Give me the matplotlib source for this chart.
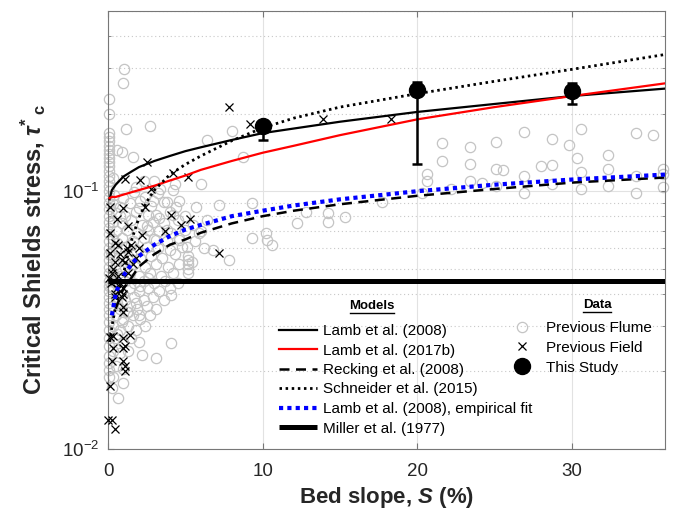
import matplotlib
matplotlib.use('Agg')
import matplotlib.pyplot as plt
from matplotlib.lines import Line2D
import numpy as np

plt.rcParams['font.family'] = ['Liberation Sans', 'DejaVu Sans']
plt.rcParams['mathtext.fontset'] = 'custom'
plt.rcParams['mathtext.rm'] = 'Liberation Sans'
plt.rcParams['mathtext.it'] = 'Liberation Sans:italic'
plt.rcParams['mathtext.bf'] = 'Liberation Sans:bold'
plt.rcParams['mathtext.bfit'] = 'Liberation Sans:italic:bold'

# ---------------- model curves ----------------
model_slope = [0.1, 0.25, 0.5, 1, 1.5, 2, 3, 4, 5, 6, 8, 10, 12, 15, 20, 25, 30, 36]
lamb2008 = [0.093, 0.101, 0.106, 0.114, 0.119, 0.124, 0.131, 0.137, 0.143, 0.148,
            0.158, 0.168, 0.175, 0.186, 0.203, 0.218, 0.234, 0.250]
lamb2017b = [0.094, 0.095, 0.095, 0.097, 0.099, 0.101, 0.105, 0.110, 0.115, 0.121,
             0.131, 0.141, 0.150, 0.165, 0.190, 0.212, 0.234, 0.262]
schneider_slope = [0.1, 0.3, 0.5, 0.75, 1, 1.5, 2, 2.5, 3, 4, 5, 6, 8, 10, 12, 15, 20, 25, 30, 36]
schneider2015 = [0.026, 0.031, 0.036, 0.042, 0.048, 0.064, 0.079, 0.091, 0.101, 0.116,
                 0.127, 0.137, 0.157, 0.176, 0.192, 0.212, 0.239, 0.267, 0.297, 0.339]
recking_slope = [0.5, 1, 1.5, 2, 3, 4, 5, 6, 8, 10, 12, 15, 20, 25, 30, 36]
recking2008 = [0.035, 0.042, 0.046, 0.051, 0.057, 0.062, 0.065, 0.069, 0.075, 0.080,
               0.084, 0.089, 0.096, 0.102, 0.108, 0.113]
fit_slope = [0.25, 0.5, 0.75, 1, 1.5, 2, 3, 4, 5, 6, 8, 10, 12, 15, 20, 25, 30, 36]
lamb_fit = [0.033, 0.040, 0.044, 0.047, 0.052, 0.056, 0.062, 0.067, 0.071, 0.074,
            0.080, 0.084, 0.088, 0.093, 0.100, 0.106, 0.111, 0.116]
miller_slope = [0, 36]
miller1977 = [0.045, 0.045]

# ---------------- this study ----------------
study_slope = [10, 20, 30]
study_tau = [0.179, 0.246, 0.245]
study_low = [0.158, 0.128, 0.217]
study_high = [0.188, 0.265, 0.263]

# ---------------- previous flume data ----------------
flume_col_tau = [0.227, 0.200, 0.168, 0.162, 0.156, 0.150, 0.145, 0.140, 0.135, 0.130,
                 0.125, 0.120, 0.115, 0.110, 0.105, 0.100, 0.095, 0.090, 0.085, 0.080,
                 0.076, 0.072, 0.068, 0.064, 0.060, 0.057, 0.054, 0.051, 0.048, 0.045,
                 0.043, 0.041, 0.039, 0.037, 0.035, 0.033, 0.031, 0.029, 0.027, 0.025,
                 0.023, 0.0215, 0.0203, 0.019]
flume_col_slope = 0.05

flume_dense_slope = [
    0.4, 1.0, 1.7, 2.4, 3.2,
    0.3, 0.8, 1.4, 2.0, 2.8, 3.6, 4.4,
    0.5, 1.1, 1.8, 2.6, 3.3, 4.0, 5.0,
    0.3, 0.9, 1.5, 2.2, 2.9, 3.6, 4.5, 5.5,
    0.5, 1.2, 1.9, 2.6, 3.3, 4.1, 5.0, 6.0,
    0.3, 0.9, 1.6, 2.3, 3.0, 3.8, 4.6, 5.6,
    0.5, 1.1, 1.8, 2.5, 3.2, 4.0, 4.8, 6.2,
    0.3, 0.9, 1.5, 2.1, 2.8, 3.5, 4.3, 5.2,
    0.5, 1.1, 1.7, 2.4, 3.1, 3.9, 4.6,
    0.3, 0.8, 1.4, 2.0, 2.7, 3.4, 4.2,
    0.5, 1.1, 1.7, 2.3, 3.0, 3.7, 4.5,
    0.3, 0.8, 1.4, 2.0, 2.6, 3.3, 4.0,
    0.5, 1.1, 1.7, 2.3, 2.9, 3.6, 4.1,
    0.3, 0.8, 1.4, 1.9, 2.5, 3.1,
    0.5, 1.0, 1.6, 2.1, 2.7,
    0.3, 0.8, 1.3, 1.8, 2.4,
    0.5, 1.0, 1.5, 2.0,
    0.3, 0.8, 1.3, 2.2,
    0.5, 1.0, 3.1, 4.1,
    0.3, 1.0, 0.66, 0.24,
    0.2, 0.6, 0.7, 1.3, 0.2, 0.6, 1.2, 0.9,
    0.7, 1.4, 2.1, 1.0, 1.8, 2.6, 0.6, 1.3, 2.0, 1.5,
]
flume_dense_tau = [
    0.097, 0.094, 0.099, 0.095, 0.098,
    0.089, 0.087, 0.090, 0.086, 0.088, 0.091, 0.087,
    0.082, 0.080, 0.083, 0.081, 0.079, 0.083, 0.080,
    0.076, 0.075, 0.077, 0.074, 0.076, 0.075, 0.077, 0.074,
    0.070, 0.071, 0.069, 0.071, 0.070, 0.069, 0.071, 0.070,
    0.065, 0.066, 0.064, 0.066, 0.065, 0.064, 0.066, 0.064,
    0.060, 0.061, 0.059, 0.061, 0.060, 0.059, 0.061, 0.060,
    0.056, 0.055, 0.057, 0.055, 0.056, 0.055, 0.057, 0.056,
    0.052, 0.051, 0.052, 0.051, 0.052, 0.051, 0.052,
    0.048, 0.047, 0.048, 0.047, 0.048, 0.047, 0.048,
    0.044, 0.045, 0.044, 0.045, 0.044, 0.045, 0.044,
    0.042, 0.041, 0.042, 0.041, 0.042, 0.041, 0.042,
    0.039, 0.038, 0.039, 0.038, 0.039, 0.038, 0.0395,
    0.036, 0.035, 0.036, 0.035, 0.036, 0.035,
    0.033, 0.032, 0.033, 0.032, 0.033,
    0.030, 0.029, 0.030, 0.029, 0.030,
    0.027, 0.026, 0.027, 0.026,
    0.024, 0.0235, 0.024, 0.0232,
    0.021, 0.0205, 0.0225, 0.0257,
    0.019, 0.018, 0.0157, 0.0172,
    0.058, 0.063, 0.050, 0.054, 0.043, 0.037, 0.034, 0.031,
    0.046, 0.050, 0.043, 0.040, 0.037, 0.046, 0.028, 0.034, 0.033, 0.062,
]

flume_upper_slope = [1.05, 0.95, 1.16, 2.7, 0.9, 1.6, 0.6, 0.3, 2.3, 3.0, 4.2, 2.1, 2.9,
                     3.8, 4.6, 5.7, 4.2, 3.1, 6.4, 3.8, 2.5, 3.1, 4.6, 5.9, 5.1, 6.8,
                     6.4, 8.0, 8.7, 7.2, 9.3, 3.35, 4.3, 6.0, 0.8, 1.8, 5.2, 5.2, 5.2,
                     5.2, 5.4, 7.8, 9.3, 10.2, 10.3, 10.6, 12.2, 12.8, 14.2, 14.2]
flume_upper_tau = [0.299, 0.263, 0.174, 0.179, 0.142, 0.136, 0.145, 0.113, 0.110, 0.110,
                   0.101, 0.092, 0.092, 0.091, 0.092, 0.087, 0.081, 0.081, 0.077, 0.071,
                   0.073, 0.0646, 0.0646, 0.0686, 0.0608, 0.059, 0.158, 0.171, 0.136,
                   0.0883, 0.0896, 0.102, 0.107, 0.107, 0.080, 0.104, 0.048, 0.050,
                   0.052, 0.054, 0.053, 0.054, 0.0656, 0.0688, 0.0646, 0.062, 0.075,
                   0.083, 0.082, 0.076]

flume_steep_slope = [15.3, 17.7, 20.3, 20.6, 20.6, 21.6, 21.6, 22.2, 23.4, 23.4, 23.4,
                     24.2, 25.1, 25.1, 25.5, 25.1, 26.9, 26.9, 26.9, 28.0, 28.7, 28.7,
                     28.7, 29.8, 30.3, 30.6, 30.6, 30.6, 32.3, 32.3, 32.3, 34.1, 35.2,
                     34.1, 34.1, 35.9, 35.9, 35.9]
flume_steep_tau = [0.0795, 0.0904, 0.098, 0.117, 0.110, 0.154, 0.131, 0.102, 0.149, 0.128,
                   0.110, 0.108, 0.155, 0.122, 0.121, 0.105, 0.170, 0.115, 0.0985, 0.125,
                   0.126, 0.160, 0.107, 0.151, 0.134, 0.174, 0.119, 0.102, 0.138, 0.122,
                   0.105, 0.168, 0.165, 0.115, 0.0985, 0.122, 0.117, 0.104]

# ---------------- previous field data ----------------
field_slope = [7.8, 9.2, 13.9, 18.3, 2.5, 1.1, 2.1, 4.2, 5.2, 2.8, 0.13, 1.0, 0.56, 2.4,
               4.1, 5.3, 4.75, 1.3, 0.13, 2.2, 3.7, 7.2, 0.66, 0.13, 1.3, 0.9, 0.45,
               1.1, 0.25, 0.66, 1.3, 0.05, 0.4, 0.8, 1.0, 0.9, 1.0, 1.0, 0.45, 0.13,
               0.35, 1.0, 1.4, 0.35, 1.0, 1.1, 0.24, 1.0, 1.1, 1.1, 0.13, 0.0, 0.24,
               0.45, 0.45, 1.2, 0.8, 1.6, 0.3, 1.8, 0.2, 0.6, 1.5, 2.0, 0.45, 1.0]
field_tau = [0.212, 0.182, 0.190, 0.191, 0.130, 0.112, 0.111, 0.118, 0.114, 0.102, 0.087,
             0.086, 0.078, 0.087, 0.081, 0.078, 0.074, 0.073, 0.069, 0.0675, 0.070,
             0.0577, 0.062, 0.0574, 0.058, 0.054, 0.053, 0.053, 0.048, 0.047, 0.048,
             0.046, 0.045, 0.044, 0.042, 0.039, 0.0356, 0.034, 0.040, 0.0272, 0.0275,
             0.027, 0.0278, 0.0246, 0.0246, 0.0252, 0.022, 0.022, 0.0209, 0.020,
             0.0176, 0.013, 0.013, 0.012, 0.063, 0.060, 0.057, 0.052, 0.050, 0.055,
             0.044, 0.042, 0.062, 0.060, 0.039, 0.040]

x_ticks = [0, 10, 20, 30]
x_ticklabels = ['0', '10', '20', '30']
y_ticks = [0.01, 0.1]
y_ticklabels = [r'$10^{-2}$', r'$10^{-1}$']

# ---------------- figure ----------------
fig = plt.figure(figsize=(6.75, 5.11), dpi=100)
ax = fig.add_axes([108 / 675, 1 - 449 / 511, 557 / 675, 438 / 511])

grey = '#c4c4c4'
all_flume_S = [flume_col_slope] * len(flume_col_tau) + flume_dense_slope + flume_upper_slope + flume_steep_slope
all_flume_T = flume_col_tau + flume_dense_tau + flume_upper_tau + flume_steep_tau
ax.plot(all_flume_S, all_flume_T, linestyle='none', marker='o', markersize=7.4,
        markerfacecolor='none', markeredgecolor=grey, markeredgewidth=0.9,
        clip_on=False, zorder=2)
ax.plot(field_slope, field_tau, linestyle='none', marker='x', markersize=5.5,
        color='k', markeredgewidth=0.9, clip_on=False, zorder=3)

l1, = ax.plot(model_slope, lamb2008, color='k', lw=1.6, zorder=4)
l2, = ax.plot(model_slope, lamb2017b, color='#ff0000', lw=1.6, zorder=4)
l3, = ax.plot(recking_slope, recking2008, color='k', lw=1.8, dashes=(4, 2.6), zorder=4)
l4, = ax.plot(schneider_slope, schneider2015, color='k', lw=2.0, linestyle=(0, (0.9, 1.3)), zorder=4)
l5, = ax.plot(fit_slope, lamb_fit, color='#0000ff', lw=3.0, linestyle=(0, (1, 1)), zorder=5)
l6, = ax.plot(miller_slope, miller1977, color='k', lw=3.6, solid_capstyle='butt', zorder=5)

st = np.array(study_tau)
yerr = [st - np.array(study_low), np.array(study_high) - st]
ax.errorbar(study_slope, study_tau, yerr=yerr, fmt='o', color='k', markersize=11.5,
            elinewidth=1.8, capsize=3.5, capthick=1.8, zorder=6)

ax.set_yscale('log')
ax.set_xlim(0, 36)
ax.set_ylim(0.01, 0.5)
ax.set_xticks(x_ticks)
ax.set_xticklabels(x_ticklabels)
ax.set_yticks(y_ticks)
ax.set_yticklabels(y_ticklabels)
ax.yaxis.set_minor_formatter(matplotlib.ticker.NullFormatter())
ax.tick_params(which='both', direction='in', top=True, right=True, color='#777777',
               labelsize=13.5, labelcolor='#262626')
ax.tick_params(which='major', length=4.5, width=0.8)
ax.tick_params(which='minor', length=2.5, width=0.6)
ax.tick_params(axis='x', pad=10)
ax.tick_params(axis='y', pad=6)
for sp in ax.spines.values():
    sp.set_color('#777777')
    sp.set_linewidth(0.8)

ax.grid(True, which='major', axis='both', color='#e2e2e2', linewidth=0.8, linestyle='-', zorder=0)
ax.grid(True, which='minor', axis='y', color='#c8c8c8', linewidth=0.8, linestyle=(0, (1, 2.5)), zorder=0)
ax.set_axisbelow(True)

ax.set_xlabel(r'Bed slope, $\mathbfit{S}$ (%)', fontsize=16, fontweight='bold', color='#262626', labelpad=4)
ax.set_ylabel(r'Critical Shields stress, $\mathbfit{\tau}^{\mathbf{*}}\,{}_{\mathbf{c}}$', fontsize=17,
              fontweight='bold', color='#262626')
ax.yaxis.set_label_coords(-0.109, 0.455)

# legends
leg1 = ax.legend([l1, l2, l3, l4, l5, l6],
                 ['Lamb et al. (2008)', 'Lamb et al. (2017b)', 'Recking et al. (2008)',
                  'Schneider et al. (2015)', 'Lamb et al. (2008), empirical fit', 'Miller et al. (1977)'],
                 loc='upper left', bbox_to_anchor=(279 / 675, 1 - 324 / 511),
                 bbox_transform=fig.transFigure, frameon=False, fontsize=11,
                 handlelength=2.5, handletextpad=0.35, labelspacing=0.36,
                 borderpad=0, borderaxespad=0)
ax.add_artist(leg1)

h_flume = Line2D([], [], linestyle='none', marker='o', markersize=7.4, markerfacecolor='none',
                 markeredgecolor=grey, markeredgewidth=0.9)
h_field = Line2D([], [], linestyle='none', marker='x', markersize=5.5, color='k', markeredgewidth=0.9)
h_study = Line2D([], [], linestyle='none', marker='o', markersize=11.5, color='k')
leg2 = ax.legend([h_flume, h_field, h_study], ['Previous Flume', 'Previous Field', 'This Study'],
                 loc='upper left', bbox_to_anchor=(511 / 675, 1 - 321 / 511),
                 bbox_transform=fig.transFigure, frameon=False, fontsize=11,
                 handlelength=1.5, handletextpad=0.8, labelspacing=0.38,
                 borderpad=0, borderaxespad=0)

fig.text(372 / 675, 1 - 306 / 511, 'Models', fontsize=9.5, fontweight='bold', ha='center', va='center')
fig.text(597 / 675, 1 - 305 / 511, 'Data', fontsize=9.5, fontweight='bold', ha='center', va='center')
fig.add_artist(Line2D([350 / 675, 394 / 675], [1 - 312.5 / 511, 1 - 312.5 / 511], color='k', lw=1.0))
fig.add_artist(Line2D([583 / 675, 611 / 675], [1 - 311.5 / 511, 1 - 311.5 / 511], color='k', lw=1.0))

fig.savefig('out.png', dpi=100)
